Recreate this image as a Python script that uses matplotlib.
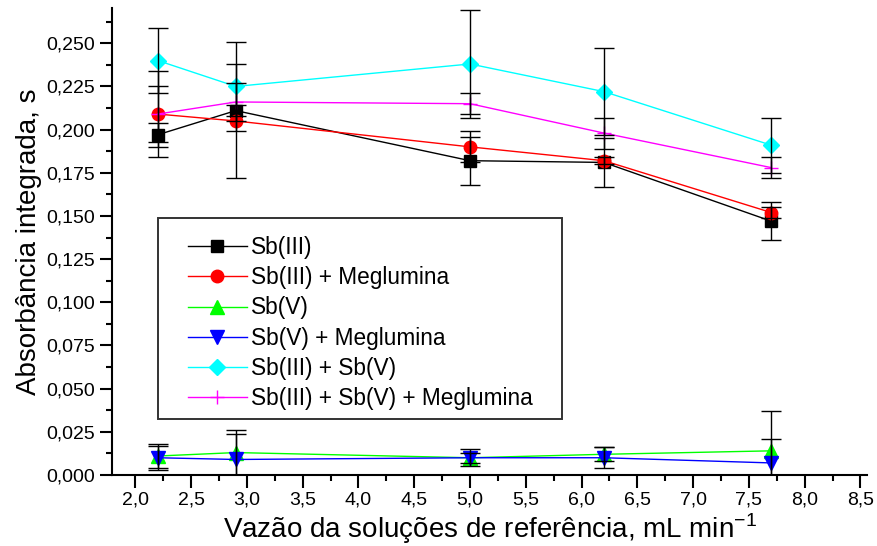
import numpy as np
import matplotlib.pyplot as plt
from matplotlib.patches import Rectangle
from matplotlib.ticker import MultipleLocator, FuncFormatter

plt.rcParams['font.family'] = ['Liberation Sans', 'DejaVu Sans']
plt.rcParams['mathtext.fontset'] = 'custom'
plt.rcParams['mathtext.rm'] = 'Liberation Sans'

# flow rates (mL/min)
x = [2.2, 2.9, 5.0, 6.2, 7.7]

# mean integrated absorbance and standard deviations per series
sb3 = [0.197, 0.211, 0.182, 0.181, 0.147]
sb3_err = [0.007, 0.003, 0.014, 0.014, 0.011]
sb3_meg = [0.209, 0.205, 0.190, 0.182, 0.152]
sb3_meg_err = [0.016, 0.033, 0.009, 0.002, 0.003]
sb5 = [0.011, 0.013, 0.010, 0.012, 0.014]
sb5_err = [0.007, 0.013, 0.005, 0.004, 0.023]
sb5_meg = [0.010, 0.009, 0.010, 0.010, 0.007]
sb5_meg_err = [0.007, 0.015, 0.003, 0.006, 0.014]
sb35 = [0.240, 0.225, 0.238, 0.222, 0.191]
sb35_err = [0.019, 0.026, 0.031, 0.025, 0.016]
sb35_meg = [0.209, 0.216, 0.215, 0.198, 0.178]
sb35_meg_err = [0.025, 0.011, 0.006, 0.009, 0.006]

labels = ['Sb(III)', 'Sb(III) + Meglumina', 'Sb(V)', 'Sb(V) + Meglumina',
          'Sb(III) + Sb(V)', 'Sb(III) + Sb(V) + Meglumina']

series = [
    (sb3, sb3_err, 'black', 's', 8.5),
    (sb3_meg, sb3_meg_err, 'red', 'o', 9),
    (sb5, sb5_err, '#00ff00', '^', 10),
    (sb5_meg, sb5_meg_err, 'blue', 'v', 10),
    (sb35, sb35_err, 'cyan', 'D', 8),
    (sb35_meg, sb35_meg_err, 'magenta', '+', 10),
]

W, H = 877, 546
fig = plt.figure(figsize=(W / 100, H / 100), dpi=100)
ax = fig.add_axes([0.1277, 0.130, 0.861, 0.855])

for (y, e, c, m, ms), lab in zip(series, labels):
    ax.plot(x, y, color=c, marker=m, markersize=ms, lw=1, label=lab,
            zorder=3)
    ax.errorbar(x, y, yerr=e, fmt='none', ecolor='black', elinewidth=1,
                capsize=7.5, capthick=1, zorder=4)

ax.set_xlim(1.79, 8.56)
ax.set_ylim(0, 0.2703)
ax.xaxis.set_major_locator(MultipleLocator(0.5))
ax.xaxis.set_minor_locator(MultipleLocator(0.25))
ax.yaxis.set_major_locator(MultipleLocator(0.025))
ax.yaxis.set_minor_locator(MultipleLocator(0.0125))
ax.xaxis.set_major_formatter(FuncFormatter(lambda v, p: f'{v:.1f}'.replace('.', ',')))
ax.yaxis.set_major_formatter(FuncFormatter(lambda v, p: f'{v:.3f}'.replace('.', ',')))

for s in ['top', 'right']:
    ax.spines[s].set_visible(False)
for s in ['left', 'bottom']:
    ax.spines[s].set_linewidth(1.5)
ax.tick_params(which='major', direction='out', length=9, width=1.5,
               labelsize=14, pad=3)
ax.tick_params(which='minor', direction='out', length=4.5, width=1.5)

ax.set_xlabel(r'Vazão da soluções de referência, mL min$^{\mathrm{-1}}$',
              fontsize=20, labelpad=2)
ax.set_ylabel('Absorbância integrada, s', fontsize=20, labelpad=3)

# legend box drawn separately so the padding matches the original
box = Rectangle((158 / W, 1 - 419 / H), (562 - 158) / W, (419 - 218) / H,
                transform=fig.transFigure, facecolor='white',
                edgecolor='#333333', linewidth=1.4, zorder=5, clip_on=False)
ax.add_patch(box)
leg = ax.legend(loc='upper left', bbox_to_anchor=(188 / W, 1 - 236 / H),
                bbox_transform=fig.transFigure, borderaxespad=0, borderpad=0,
                fontsize=16.3, frameon=False, handlelength=2.6,
                handletextpad=0.2, labelspacing=0.32)
leg.set_zorder(6)

fig.savefig('out.png', dpi=100)
